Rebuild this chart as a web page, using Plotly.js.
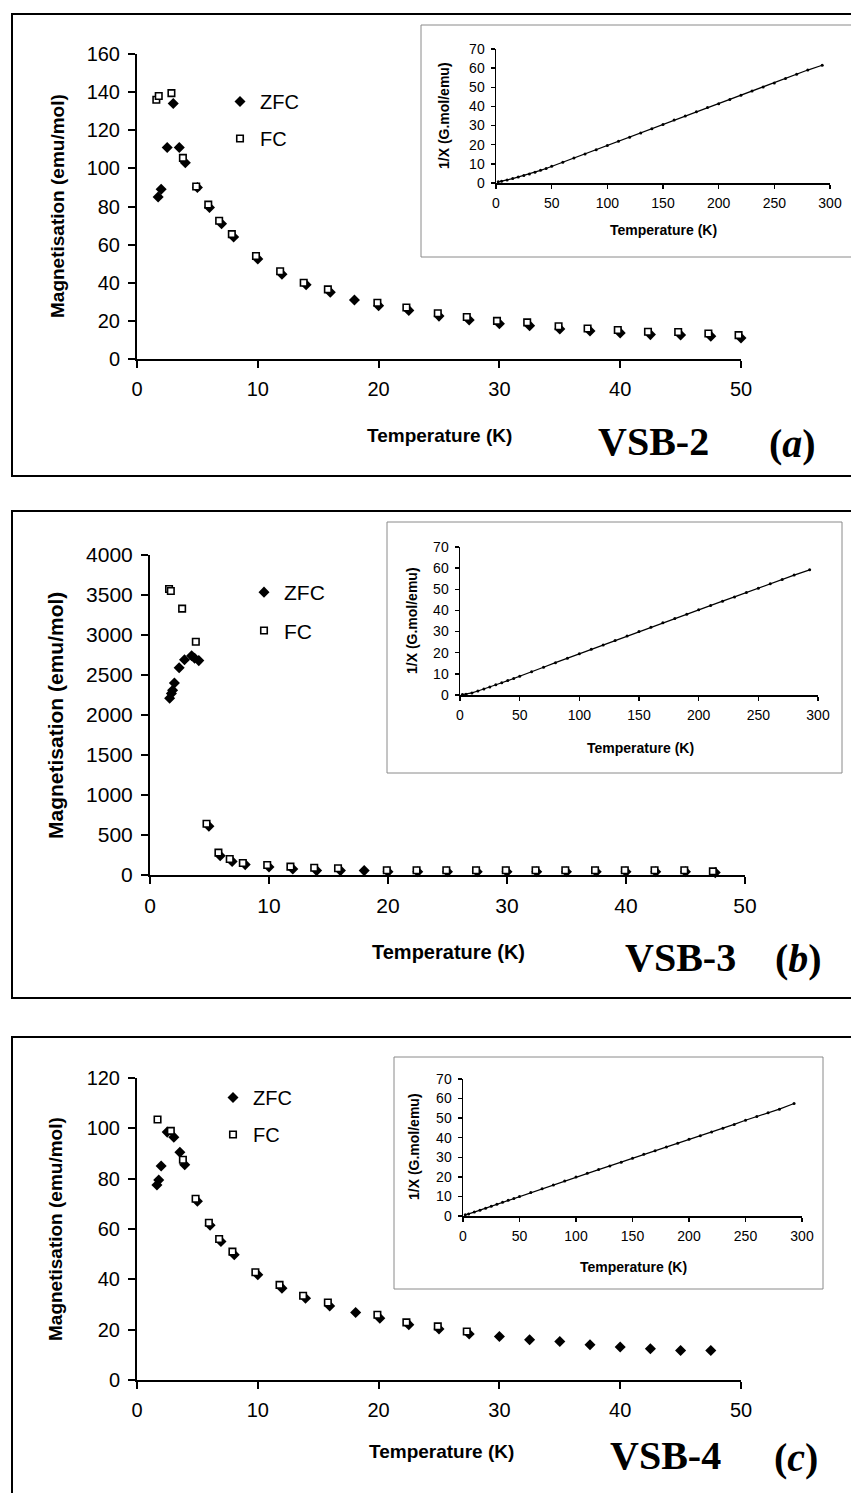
<!DOCTYPE html>
<html>
<head>
<meta charset="utf-8">
<script src="https://cdn.plot.ly/plotly-3.0.1.min.js"></script>
<style>html,body{margin:0;padding:0;background:#fff;}#chart{width:851px;height:1493px;}</style>
</head>
<body>
<div id="chart"></div>
<script>
// ---------- DATA ----------
// Panel (a) VSB-2
const T_a_zfc = [1.75, 2.0, 2.5, 3.0, 3.5, 4.0, 5.0, 6.0, 7.0, 8.0, 10.0, 12.0, 14.0, 16.0, 18.0, 20.0, 22.5, 25.0, 27.5, 30.0, 32.5, 35.0, 37.5, 40.0, 42.5, 45.0, 47.5, 50.0];
const M_a_zfc = [85, 89, 111, 134, 111, 103, 90, 79.5, 71, 64, 52.5, 44.5, 39, 35, 31, 28, 25.5, 22.5, 20.5, 18.5, 17.5, 15.8, 14.7, 13.7, 12.8, 12.6, 12, 11];
const T_a_fc = [1.6, 1.8, 2.85, 3.8, 4.9, 5.9, 6.8, 7.85, 9.85, 11.85, 13.8, 15.8, 19.9, 22.3, 24.9, 27.3, 29.8, 32.3, 34.9, 37.3, 39.8, 42.3, 44.8, 47.3, 49.8];
const M_a_fc = [136, 138, 139.5, 105.5, 90.5, 81, 72.5, 65.5, 54, 46, 40, 36.5, 29.5, 27, 24, 22, 20, 19.2, 17.2, 16, 15.2, 14.3, 14.2, 13.4, 12.5];
// Panel (b) VSB-3
const T_b_zfc = [1.65, 1.8, 1.9, 2.05, 2.45, 2.9, 3.5, 3.75, 4.1, 4.95, 5.9, 6.9, 8.0, 10.0, 12.0, 14.0, 16.0, 18.0, 20.0, 22.5, 25, 27.5, 30, 32.5, 35, 37.5, 40, 42.5, 45, 47.5];
const M_b_zfc = [2210, 2270, 2310, 2400, 2590, 2690, 2740, 2710, 2680, 610, 240, 170, 130, 100, 75, 55, 55, 55, 40, 40, 40, 40, 40, 40, 40, 40, 40, 40, 40, 30];
const T_b_fc = [1.6, 1.75, 2.7, 3.85, 4.75, 5.75, 6.7, 7.8, 9.85, 11.8, 13.8, 15.8, 19.9, 22.4, 24.9, 27.4, 29.9, 32.4, 34.9, 37.4, 39.9, 42.4, 44.9, 47.3];
const M_b_fc = [3575, 3550, 3330, 2915, 640, 280, 200, 150, 125, 105, 90, 85, 60, 60, 60, 60, 60, 60, 60, 60, 60, 60, 60, 45];
// Panel (c) VSB-4
const T_c_zfc = [1.65, 1.8, 2.0, 2.5, 3.05, 3.55, 3.95, 5.0, 6.05, 6.95, 8.05, 10.0, 12.0, 13.95, 15.95, 18.1, 20.1, 22.5, 25, 27.5, 30, 32.5, 35, 37.5, 40, 42.5, 45, 47.5];
const M_c_zfc = [77.5, 79.5, 85, 98.5, 96.5, 90.5, 85.5, 71, 61.5, 55, 49.8, 41.8, 36.5, 32.5, 29.4, 26.8, 24.5, 22, 20.3, 18.3, 17.3, 16, 15.3, 14, 13.1, 12.4, 11.7, 11.7];
const T_c_fc = [1.7, 2.8, 3.8, 4.85, 5.95, 6.8, 7.9, 9.8, 11.8, 13.75, 15.8, 19.9, 22.3, 24.9, 27.3];
const M_c_fc = [103.5, 99, 87.5, 72, 62.5, 56, 51, 42.8, 37.8, 33.5, 30.8, 25.9, 22.9, 21.3, 19.3];
// Insets: 1/chi vs T
const T_inv = [2, 5, 10, 15, 20, 25, 30, 35, 40, 45, 50, 60, 70, 80, 90, 100, 110, 120, 130, 140, 150, 160, 170, 180, 190, 200, 210, 220, 230, 240, 250, 260, 270, 280, 293];
const inv_a = [0.6, 0.9, 1.6, 2.3, 3.1, 3.9, 4.7, 5.6, 6.6, 7.6, 8.7, 10.8, 13.0, 15.2, 17.4, 19.6, 21.8, 23.9, 26.1, 28.3, 30.5, 32.9, 35.0, 37.2, 39.4, 41.4, 43.6, 45.9, 48.0, 50.2, 52.3, 54.6, 56.8, 59.0, 61.5];
const inv_b = [0.2, 0.4, 1.0, 1.9, 2.8, 3.8, 4.8, 5.8, 6.8, 7.8, 8.9, 11.0, 13.1, 15.3, 17.4, 19.5, 21.6, 23.7, 25.8, 27.9, 30.0, 32.1, 34.2, 36.2, 38.2, 40.3, 42.3, 44.4, 46.4, 48.5, 50.5, 52.6, 54.6, 56.7, 59.2];
const inv_c = [0.6, 1.0, 2.0, 3.0, 4.0, 5.0, 6.0, 7.0, 8.0, 9.0, 10.0, 12.0, 13.9, 15.9, 17.9, 19.9, 21.8, 23.7, 25.6, 27.5, 29.5, 31.5, 33.4, 35.3, 37.2, 39.2, 41.0, 42.9, 44.8, 46.8, 48.9, 50.8, 52.7, 54.6, 57.5];
const legendNames = ['ZFC', 'FC'];
const sampleNames = ['VSB-2', 'VSB-3', 'VSB-4'];
const panelLetters = ['a', 'b', 'c'];

// ---------- LAYOUT HELPERS ----------
const W = 851, H = 1493;
const px = v => v / W;
const py = v => 1 - v / H;
const dX = (a, b) => [px(a), px(b)];
const dY = (top, bot) => [py(bot), py(top)];
const SANS = 'Liberation Sans, Arial, sans-serif';
const SERIF = 'Liberation Serif, Times New Roman, serif';

function zfcTrace(x, y, xa, ya, lg) {
  return {x, y, xaxis: xa, yaxis: ya, type: 'scatter', mode: 'markers', name: legendNames[0],
    legend: lg, legendgroup: lg + 'z', cliponaxis: false,
    marker: {symbol: 'diamond', size: 8.5, color: 'black', line: {width: 0}}};
}
function fcTrace(x, y, xa, ya, lg) {
  return {x, y, xaxis: xa, yaxis: ya, type: 'scatter', mode: 'markers', name: legendNames[1],
    legend: lg, legendgroup: lg + 'f', cliponaxis: false,
    marker: {symbol: 'square', size: 6.5, color: 'white', line: {width: 1.6, color: 'black'}}};
}
function invTrace(y, xa, ya) {
  return {x: T_inv, y, xaxis: xa, yaxis: ya, type: 'scatter', mode: 'lines+markers', showlegend: false,
    cliponaxis: false, line: {color: 'black', width: 1.2}, marker: {size: 3, color: 'black'}};
}

const data = [
  zfcTrace(T_a_zfc, M_a_zfc, 'x', 'y', 'legend'),
  fcTrace(T_a_fc, M_a_fc, 'x', 'y', 'legend'),
  invTrace(inv_a, 'x2', 'y2'),
  zfcTrace(T_b_zfc, M_b_zfc, 'x3', 'y3', 'legend2'),
  fcTrace(T_b_fc, M_b_fc, 'x3', 'y3', 'legend2'),
  invTrace(inv_b, 'x4', 'y4'),
  zfcTrace(T_c_zfc, M_c_zfc, 'x5', 'y5', 'legend3'),
  fcTrace(T_c_fc, M_c_fc, 'x5', 'y5', 'legend3'),
  invTrace(inv_c, 'x6', 'y6')
];

function mainAx(domain, range, dtick, anchor, fs) {
  return {domain, range, dtick, tick0: 0, anchor, showgrid: false, zeroline: false, showline: true,
    linecolor: 'black', linewidth: 2, ticks: 'outside', ticklen: 7, tickwidth: 2, tickcolor: 'black',
    tickfont: {size: fs, family: SANS, color: 'black'}, tickformat: 'd', fixedrange: true, ticklabelstandoff: 4};
}
function insetAx(domain, range, dtick, anchor) {
  return {domain, range, dtick, tick0: 0, anchor, showgrid: false, zeroline: false, showline: true,
    linecolor: 'black', linewidth: 1.5, ticks: 'outside', ticklen: 4, tickwidth: 1.5, tickcolor: 'black',
    tickfont: {size: 14, family: SANS, color: 'black'}, tickformat: 'd', fixedrange: true, ticklabelstandoff: 3};
}
function legendAt(x, yTop, fs) {
  return {x: px(x), y: py(yTop), xanchor: 'left', yanchor: 'top', bgcolor: 'rgba(0,0,0,0)',
    borderwidth: 0, font: {size: fs, family: SANS, color: 'black'}, tracegroupgap: 8, itemclick: false};
}
function ann(text, x, y, size, family, angle) {
  return {text, x: px(x), y: py(y), xref: 'paper', yref: 'paper', showarrow: false,
    xanchor: 'center', yanchor: 'middle', textangle: angle || 0,
    font: {size, family: family || SANS, color: 'black'}};
}
function frame(x0, y0, x1, y1, color, width) {
  return {type: 'rect', xref: 'paper', yref: 'paper', x0: px(x0), x1: px(x1), y0: py(y1), y1: py(y0),
    line: {color, width}, fillcolor: 'rgba(0,0,0,0)', layer: 'below'};
}

const layout = {
  width: W, height: H, margin: {l: 0, r: 0, t: 0, b: 0},
  paper_bgcolor: 'white', plot_bgcolor: 'rgba(0,0,0,0)',
  font: {family: SANS, color: 'black'},
  xaxis: mainAx(dX(137, 741), [0, 50], 10, 'y', 20),
  yaxis: mainAx(dY(54, 359), [0, 160], 20, 'x', 20),
  xaxis2: insetAx(dX(496, 830), [0, 300], 50, 'y2'),
  yaxis2: insetAx(dY(49, 183), [0, 70], 10, 'x2'),
  xaxis3: mainAx(dX(150, 745), [0, 50], 10, 'y3', 21),
  yaxis3: mainAx(dY(555, 875), [0, 4000], 500, 'x3', 21),
  xaxis4: insetAx(dX(460, 818), [0, 300], 50, 'y4'),
  yaxis4: insetAx(dY(547, 695), [0, 70], 10, 'x4'),
  xaxis5: mainAx(dX(137, 741), [0, 50], 10, 'y5', 20),
  yaxis5: mainAx(dY(1078, 1380), [0, 120], 20, 'x5', 20),
  xaxis6: insetAx(dX(463, 802), [0, 300], 50, 'y6'),
  yaxis6: insetAx(dY(1079, 1216), [0, 70], 10, 'x6'),
  legend: legendAt(220, 82, 20),
  legend2: legendAt(244, 572, 21),
  legend3: legendAt(213, 1078, 20),
  shapes: [
    frame(12, 14, 856, 476, 'black', 2),
    frame(12, 511, 856, 998, 'black', 2),
    frame(12, 1037, 856, 1500, 'black', 2),
    frame(421, 25, 856, 257, '#8a8a8a', 1),
    frame(387, 522, 842, 773, '#8a8a8a', 1),
    frame(394, 1057, 823, 1289, '#8a8a8a', 1)
  ],
  annotations: [
    ann('<b>Magnetisation (emu/mol)</b>', 57, 206, 19, SANS, -90),
    ann('<b>Temperature (K)</b>', 440, 436, 19),
    ann('<b>' + sampleNames[0] + '</b>', 653, 441, 40, SERIF),
    ann('<b>(<i>' + panelLetters[0] + '</i>)</b>', 792, 443, 40, SERIF),
    ann('<b>1/X (G.mol/emu)</b>', 444, 116, 14, SANS, -90),
    ann('<b>Temperature (K)</b>', 663, 230, 14),

    ann('<b>Magnetisation (emu/mol)</b>', 55, 716, 21, SANS, -90),
    ann('<b>Temperature (K)</b>', 448, 952, 20),
    ann('<b>' + sampleNames[1] + '</b>', 680, 957, 40, SERIF),
    ann('<b>(<i>' + panelLetters[1] + '</i>)</b>', 798, 958, 40, SERIF),
    ann('<b>1/X (G.mol/emu)</b>', 412, 621, 14, SANS, -90),
    ann('<b>Temperature (K)</b>', 640, 748, 14),

    ann('<b>Magnetisation (emu/mol)</b>', 55, 1229, 19, SANS, -90),
    ann('<b>Temperature (K)</b>', 442, 1451, 19),
    ann('<b>' + sampleNames[2] + '</b>', 665, 1455, 40, SERIF),
    ann('<b>(<i>' + panelLetters[2] + '</i>)</b>', 796, 1457, 40, SERIF),
    ann('<b>1/X (G.mol/emu)</b>', 414, 1147, 14, SANS, -90),
    ann('<b>Temperature (K)</b>', 633, 1267, 14)
  ]
};

Plotly.newPlot('chart', data, layout, {staticPlot: true, displayModeBar: false});
</script>
</body>
</html>
